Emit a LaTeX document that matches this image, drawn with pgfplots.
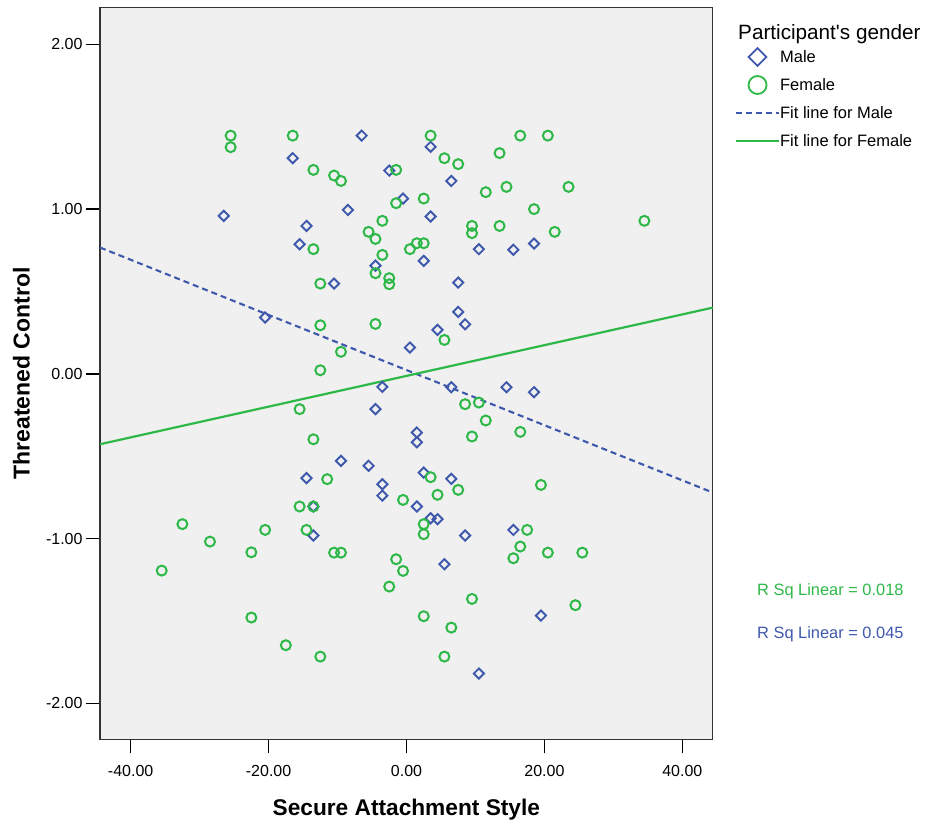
\documentclass[border=0pt]{standalone}
\usepackage{fontspec}
\setmainfont{Liberation Sans}
\usepackage{pgfplots}
\pgfplotsset{compat=1.18}

\definecolor{spssblue}{RGB}{62,88,172}
\definecolor{spssgreen}{RGB}{46,184,72}
\definecolor{plotbg}{RGB}{240,240,240}

\pgfplotstableread{
x y
-6.5 1.446
-16.5 1.309
-2.5 1.234
-0.5 1.064
-26.5 0.959
-8.5 0.995
-14.5 0.898
-15.5 0.787
3.5 1.378
6.5 1.171
3.5 0.955
10.5 0.757
15.5 0.753
18.5 0.791
-4.5 0.657
-10.5 0.548
-20.5 0.342
0.5 0.160
-3.5 -0.079
-4.5 -0.214
-9.5 -0.528
-5.5 -0.558
-14.5 -0.633
-3.5 -0.670
-3.5 -0.739
2.5 0.686
7.5 0.554
7.5 0.376
8.5 0.301
4.5 0.267
6.5 -0.081
14.5 -0.081
18.5 -0.111
1.5 -0.356
1.5 -0.415
2.5 -0.599
6.5 -0.637
-13.5 -0.805
-13.5 -0.981
1.5 -0.805
3.5 -0.876
4.5 -0.882
8.5 -0.981
15.5 -0.947
5.5 -1.155
19.5 -1.467
10.5 -1.819
}\maledata

\pgfplotstableread{
x y
-25.5 1.446
-25.5 1.376
-16.5 1.446
-13.5 1.238
-10.5 1.204
-9.5 1.171
-1.5 1.238
-1.5 1.036
-3.5 0.929
-5.5 0.862
-4.5 0.819
-13.5 0.757
-3.5 0.722
0.5 0.757
3.5 1.446
5.5 1.309
7.5 1.273
13.5 1.340
16.5 1.446
20.5 1.446
11.5 1.103
14.5 1.135
23.5 1.135
2.5 1.064
18.5 1.000
34.5 0.929
9.5 0.898
9.5 0.854
13.5 0.898
21.5 0.862
1.5 0.793
2.5 0.793
-4.5 0.611
-2.5 0.581
-2.5 0.544
-12.5 0.548
-12.5 0.295
-4.5 0.303
-9.5 0.134
-12.5 0.022
-15.5 -0.214
-13.5 -0.397
-11.5 -0.639
-0.5 -0.765
5.5 0.206
8.5 -0.184
10.5 -0.174
11.5 -0.283
9.5 -0.380
16.5 -0.352
3.5 -0.627
7.5 -0.704
4.5 -0.734
19.5 -0.674
-15.5 -0.805
-13.5 -0.805
-14.5 -0.947
-32.5 -0.912
-28.5 -1.018
-20.5 -0.947
-22.5 -1.083
-35.5 -1.194
-10.5 -1.085
-9.5 -1.085
-1.5 -1.125
-0.5 -1.196
-2.5 -1.291
-22.5 -1.479
-17.5 -1.647
-12.5 -1.716
2.5 -0.912
2.5 -0.973
17.5 -0.947
16.5 -1.048
15.5 -1.119
20.5 -1.085
25.5 -1.085
9.5 -1.366
24.5 -1.404
2.5 -1.471
6.5 -1.540
5.5 -1.716
}\femaledata

\pgfplotsset{
  legmark/.style={legend image code/.code={%
    \path[draw=none, fill=none] (0pt,-14pt) rectangle (43pt,14pt);
    \draw[##1] plot[only marks] coordinates {(21.5pt,0pt)};}},
  legline/.style={legend image code/.code={%
    \path[draw=none, fill=none] (0pt,-14pt) rectangle (43pt,14pt);
    \draw[##1] (0pt,0pt) -- (43pt,0pt);}},
}

\begin{document}
\begin{tikzpicture}
\useasboundingbox (-100pt,-83.7pt) rectangle (826pt,739.3pt);
\begin{axis}[
  at={(0pt,0pt)}, anchor=south west,
  scale only axis, width=612.7pt, height=732pt,
  xmin=-44.45, xmax=44.41, ymin=-2.218, ymax=2.225,
  clip=false,
  axis background/.style={fill=plotbg},
  axis line style={line width=1.3pt, black!80},
  xtick={-40,-20,0,20,40}, ytick={-2,-1,0,1,2},
  tick pos=left, tick align=outside,
  major tick length=14pt,
  every tick/.style={line width=1.4pt, black},
  /pgf/number format/assume math mode=true,
  /pgf/number format/fixed,
  /pgf/number format/fixed zerofill,
  /pgf/number format/precision=2,
  tick label style={font=\fontsize{16}{16}\selectfont},
  xticklabel style={anchor=base, inner sep=0pt, yshift=-22.7pt},
  yticklabel style={anchor=east, inner sep=0pt, xshift=-3.3pt},
  xlabel={Secure Attachment Style},
  ylabel={Threatened Control},
  every axis x label/.style={at={(rel axis cs:0.5,0)}, anchor=base,
    yshift=-75.7pt, font=\fontsize{22.7}{22.7}\selectfont\bfseries},
  every axis y label/.style={at={(rel axis cs:0,0.5)}, rotate=90, anchor=center,
    yshift=78.5pt, font=\fontsize{23}{23}\selectfont\bfseries},
  legend style={at={(rel axis cs:1,1)}, anchor=north west,
    xshift=22.3pt, yshift=-35.7pt,
    draw=none, fill=none, inner sep=0pt, outer sep=0pt,
    row sep=0pt,
    font=\fontsize{16.5}{16.5}\selectfont,
    nodes={inner sep=0pt, outer sep=0pt},
    /tikz/every even column/.append style={column sep=2pt}},
  legend cell align=left,
]
% fit lines
\addplot[forget plot, spssblue, line width=2.1pt, dash pattern=on 6pt off 4pt]
  coordinates {(-44.45,0.767) (44.41,-0.720)};
\addplot[forget plot, spssgreen, line width=2.2pt]
  coordinates {(-44.45,-0.427) (44.41,0.402)};
% observations
\addplot[forget plot, only marks, spssblue, mark=square, mark size=3.6pt,
  mark options={rotate=45, solid, line width=1.9pt}] table[x=x,y=y] {\maledata};
\addplot[forget plot, only marks, spssgreen, mark=o, mark size=5pt,
  mark options={solid, line width=2pt}] table[x=x,y=y] {\femaledata};

\addlegendimage{legmark, spssblue, mark=square, mark size=6.3pt,
  mark options={rotate=45, solid, line width=1.8pt}}
\addlegendentry{Male}
\addlegendimage{legmark, spssgreen, mark=o, mark size=9pt,
  mark options={solid, line width=1.8pt}}
\addlegendentry{Female}
\addlegendimage{legline, spssblue, line width=1.9pt, dash pattern=on 6pt off 4pt}
\addlegendentry{Fit line for Male}
\addlegendimage{legline, spssgreen, line width=2.1pt}
\addlegendentry{Fit line for Female}

\node[anchor=base west, inner sep=0pt, font=\fontsize{20.7}{20.7}\selectfont]
  at ([xshift=25.3pt, yshift=-32.7pt]rel axis cs:1,1) {Participant\textquotesingle s gender};
\node[anchor=base west, inner sep=0pt, text=spssgreen, font=\fontsize{16.4}{16.4}\selectfont]
  at ([xshift=44.3pt, yshift=144.3pt]rel axis cs:1,0) {R Sq Linear = 0.018};
\node[anchor=base west, inner sep=0pt, text=spssblue, font=\fontsize{16.4}{16.4}\selectfont]
  at ([xshift=44.3pt, yshift=101pt]rel axis cs:1,0) {R Sq Linear = 0.045};
\end{axis}
\end{tikzpicture}
\end{document}
